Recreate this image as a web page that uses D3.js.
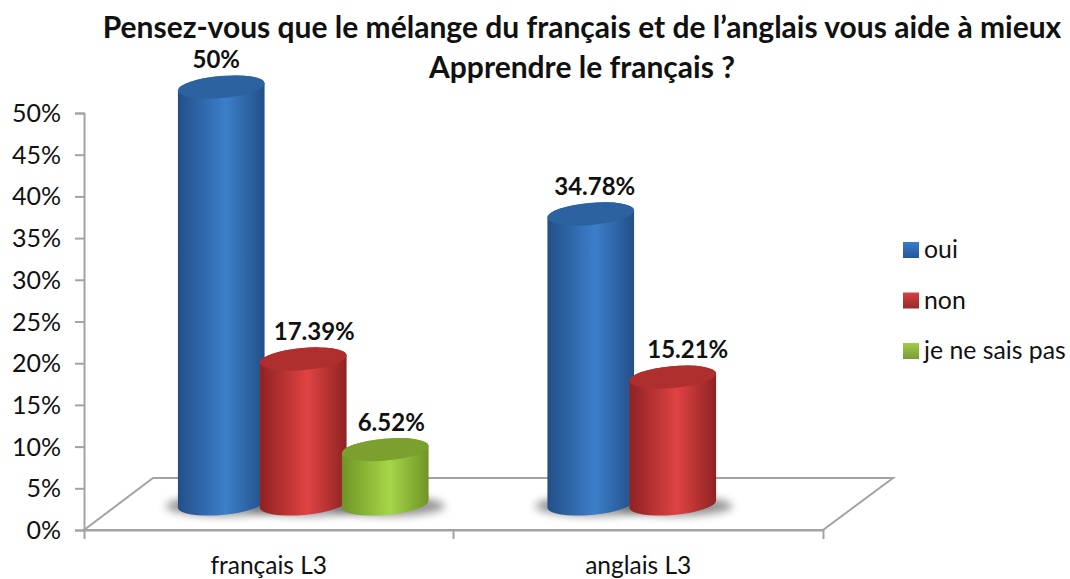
<!DOCTYPE html>
<html>
<head>
<meta charset="utf-8">
<script src="https://cdn.jsdelivr.net/npm/d3@7"></script>
<style>
html, body { margin: 0; padding: 0; background: #fff; }
svg { display: block; }
text { font-family: Lato, "Open Sans", sans-serif; fill: #111; }
</style>
</head>
<body>
<div id="chart"></div>
<script>
var titleLines = ["Pensez-vous que le mélange du français et de l’anglais vous aide à mieux", "Apprendre le français ?"];
var categories = ["français L3", "anglais L3"];
var seriesNames = ["oui", "non", "je ne sais pas"];
var oui = [50, 34.78];
var non = [17.39, 15.21];
var nsp = [6.52, null];
var valueLabels = [["50%", "34.78%"], ["17.39%", "15.21%"], ["6.52%", ""]];
var yTicks = [0, 5, 10, 15, 20, 25, 30, 35, 40, 45, 50];

var seriesValues = [oui, non, nsp];
var colors = [
    {edge: "#234f88", mid: "#3c7fca", top: "#2b629f", a: "#3a7ccb", b: "#25579a"},
    {edge: "#8f2222", mid: "#e04343", top: "#ae2f2d", a: "#d84040", b: "#982a2a"},
    {edge: "#6f9426", mid: "#a6d647", top: "#7ba02f", a: "#a2cc48", b: "#7a9b34"}
];

var w = 1070, h = 579;
var x0 = 84, x1 = 823, y0 = 530;
var depthX = 69, depthY = 52;

var svg = d3.select("#chart").append("svg").attr("width", w).attr("height", h);
var defs = svg.append("defs");

colors.forEach(function(c, i) {
    var g = defs.append("linearGradient").attr("id", "side" + i);
    g.append("stop").attr("offset", "0%").attr("stop-color", c.edge);
    g.append("stop").attr("offset", "55%").attr("stop-color", c.mid);
    g.append("stop").attr("offset", "100%").attr("stop-color", c.edge);
    var l = defs.append("linearGradient").attr("id", "leg" + i)
        .attr("x1", 0).attr("x2", 0).attr("y1", 0).attr("y2", 1);
    l.append("stop").attr("offset", "0%").attr("stop-color", c.a);
    l.append("stop").attr("offset", "100%").attr("stop-color", c.b);
});
defs.append("filter").attr("id", "blur")
    .attr("x", "-30%").attr("y", "-80%").attr("width", "160%").attr("height", "260%")
    .append("feGaussianBlur").attr("stdDeviation", 4);

var y = d3.scaleLinear().domain([0, 50]).range([y0, 113]);
var x = d3.scaleBand().domain(categories).range([x0, x1]);
var inner = d3.scaleBand().domain(d3.range(3)).range([-123, 123]);

// floor
svg.append("path")
    .attr("d", "M" + x0 + "," + y0 + "L" + (x0 + depthX) + "," + (y0 - depthY) +
        "L" + (x1 + depthX + 1) + "," + (y0 - depthY) + "L" + x1 + "," + y0 + "Z")
    .attr("fill", "none").attr("stroke", "#a3a3a3").attr("stroke-width", 2);

// axes
var yAxis = d3.axisLeft(y).tickValues(yTicks).tickSize(9).tickFormat(function(d) { return d + "%"; });
var gy = svg.append("g").attr("transform", "translate(" + x0 + ",0)").call(yAxis);
gy.selectAll("text").attr("font-size", 25).attr("x", -23).attr("dy", "0.34em");

var xAxis = d3.axisBottom(x).tickValues([]).tickSizeOuter(9);
var gx = svg.append("g").attr("transform", "translate(0," + y0 + ")").call(xAxis);
gx.selectAll(".tick-mid").data([x0 + (x1 - x0) / 2]).enter().append("line")
    .attr("x1", function(d) { return d; }).attr("x2", function(d) { return d; })
    .attr("y1", 0).attr("y2", 9).attr("stroke", "#a3a3a3").attr("stroke-width", 2);

svg.selectAll(".domain, .tick line").attr("stroke", "#a3a3a3").attr("stroke-width", 2);

svg.selectAll(".catLabel").data(categories).enter().append("text")
    .attr("x", function(d) { return x(d) + x.bandwidth() / 2; })
    .attr("y", 574).attr("text-anchor", "middle").attr("font-size", 24.5)
    .text(function(d) { return d; });

// cylinders
var rx = 43.5, ry = 11, tilt = -5;
var sin = Math.sin(tilt * Math.PI / 180), cos = Math.cos(tilt * Math.PI / 180);
var baseY = 504;
var zero = y(0);

var bars = [];
seriesValues.forEach(function(vals, s) {
    vals.forEach(function(v, c) {
        if (v !== null) bars.push({s: s, c: c, v: v, label: valueLabels[s][c]});
    });
});

function cx(d) {
    return x(categories[d.c]) + x.bandwidth() / 2 + depthX / 2 + inner(d.s) + inner.bandwidth() / 2;
}
function topY(d) {
    return baseY - (zero - y(d.v));
}

// the labels do not sit centred on their bars in the original
var labelShift = [[-5, 4], [11, 15], [6, 0]];

// shadows first
svg.append("g").selectAll("ellipse").data(bars).enter().append("ellipse")
    .attr("cx", function(d) { return cx(d) + 2; })
    .attr("cy", baseY + 2)
    .attr("rx", rx + 14).attr("ry", ry - 1)
    .attr("fill", "#666").attr("opacity", 0.7)
    .attr("filter", "url(#blur)");

var bar = svg.append("g").selectAll("g").data(bars).enter().append("g");

bar.append("path")
    .attr("fill", function(d) { return "url(#side" + d.s + ")"; })
    .attr("d", function(d) {
        var c = cx(d), t = topY(d);
        var dx = rx * cos, dy = rx * sin;
        return "M" + (c - dx) + "," + (t - dy) +
            "L" + (c - dx) + "," + (baseY - dy) +
            "A" + rx + "," + ry + " " + tilt + " 0 0 " + (c + dx) + "," + (baseY + dy) +
            "L" + (c + dx) + "," + (t + dy) +
            "A" + rx + "," + ry + " " + tilt + " 0 0 " + (c - dx) + "," + (t - dy) + "Z";
    });

bar.append("ellipse")
    .attr("rx", rx).attr("ry", ry)
    .attr("transform", function(d) {
        return "translate(" + cx(d) + "," + topY(d) + ") rotate(" + tilt + ")";
    })
    .attr("fill", function(d) { return colors[d.s].top; });

bar.append("text")
    .attr("x", function(d) { return cx(d) + labelShift[d.s][d.c]; })
    .attr("y", function(d) { return topY(d) - 19; })
    .attr("text-anchor", "middle")
    .attr("font-size", 24).attr("font-weight", "bold")
    .text(function(d) { return d.label; });

// title
svg.selectAll(".title").data(titleLines).enter().append("text")
    .attr("x", 582).attr("y", function(d, i) { return 38 + i * 40; })
    .attr("text-anchor", "middle").attr("font-size", 30).attr("font-weight", "bold")
    .text(function(d) { return d; });

// legend
var legendY = d3.scalePoint().domain(seriesNames).range([250, 351]);
var legend = svg.append("g").selectAll("g").data(seriesNames).enter().append("g")
    .attr("transform", function(d) { return "translate(903," + legendY(d) + ")"; });
legend.append("rect").attr("x", 0).attr("y", -8).attr("width", 16).attr("height", 16)
    .attr("fill", function(d, i) { return "url(#leg" + i + ")"; });
legend.append("text").attr("x", 21).attr("y", 8).attr("font-size", 24.8)
    .text(function(d) { return d; });
</script>
</body>
</html>
